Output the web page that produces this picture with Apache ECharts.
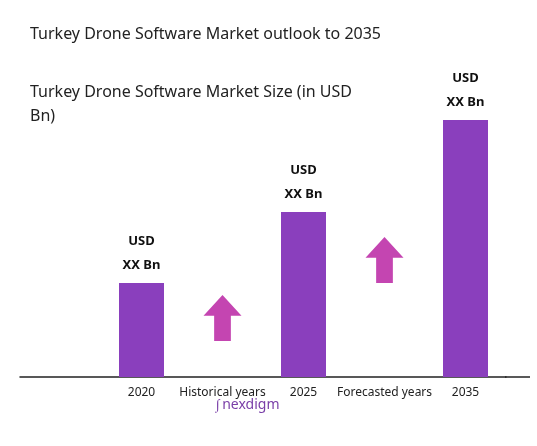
<!DOCTYPE html>
<html><head><meta charset="utf-8">
<script src="https://cdn.jsdelivr.net/npm/echarts@6/dist/echarts.min.js"></script>
<style>html,body{margin:0;background:#fff}#main{width:537px;height:446px}</style>
</head><body><div id="main"></div>
<script>
var categories = ['', '2020', 'Historical years', '2025', 'Forecasted years', '2035'];
var barValues = [null, 94, null, 165, null, 257];
var arrowValues = [null, null, 59, null, 117, null];

var chart = echarts.init(document.getElementById('main'));
var arrowPath = 'path://M50,0 L100,45 L72,45 L72,100 L28,100 L28,45 L0,45 Z';
chart.setOption({
  animation: false,
  graphic: [
    { type: 'text', left: 30, top: 26, style: { text: 'Turkey Drone Software Market outlook to 2035', font: '16px "Noto Sans"', fill: '#222' } },
    { type: 'text', left: 30, top: 80, style: { text: 'Turkey Drone Software Market Size (in USD\nBn)', font: '16px "Noto Sans"', fill: '#222', lineHeight: 24 } },
    { type: 'line', shape: { x1: 505, y1: 377, x2: 530, y2: 377 }, style: { stroke: '#222', lineWidth: 1.5 } },
    { type: 'text', left: 216, top: 398, style: { text: '\u222b\u2009nexdigm', font: '14px "Noto Sans"', fill: '#7a3fa8' } }
  ],
  grid: { left: 20, right: 31, top: 40, bottom: 69 },
  xAxis: {
    type: 'category', data: categories,
    axisLine: { lineStyle: { color: '#222', width: 1.5 } },
    axisTick: { show: false },
    axisLabel: { color: '#222', fontSize: 12, fontFamily: 'Noto Sans', margin: 10, interval: 0 }
  },
  yAxis: { type: 'value', min: 0, max: 337, show: false, splitLine: { show: false } },
  series: [
    {
      type: 'bar', data: barValues, barWidth: 45, itemStyle: { color: '#8a3fbd' },
      label: { show: true, position: 'top', formatter: 'USD\nXX Bn', color: '#111', fontWeight: 'bold', fontSize: 13, lineHeight: 24, fontFamily: 'Noto Sans', distance: 6 }
    },
    {
      type: 'scatter', data: arrowValues, symbol: arrowPath, symbolSize: [38, 46],
      itemStyle: { color: '#b5179e' }
    }
  ]
});
</script></body></html>
